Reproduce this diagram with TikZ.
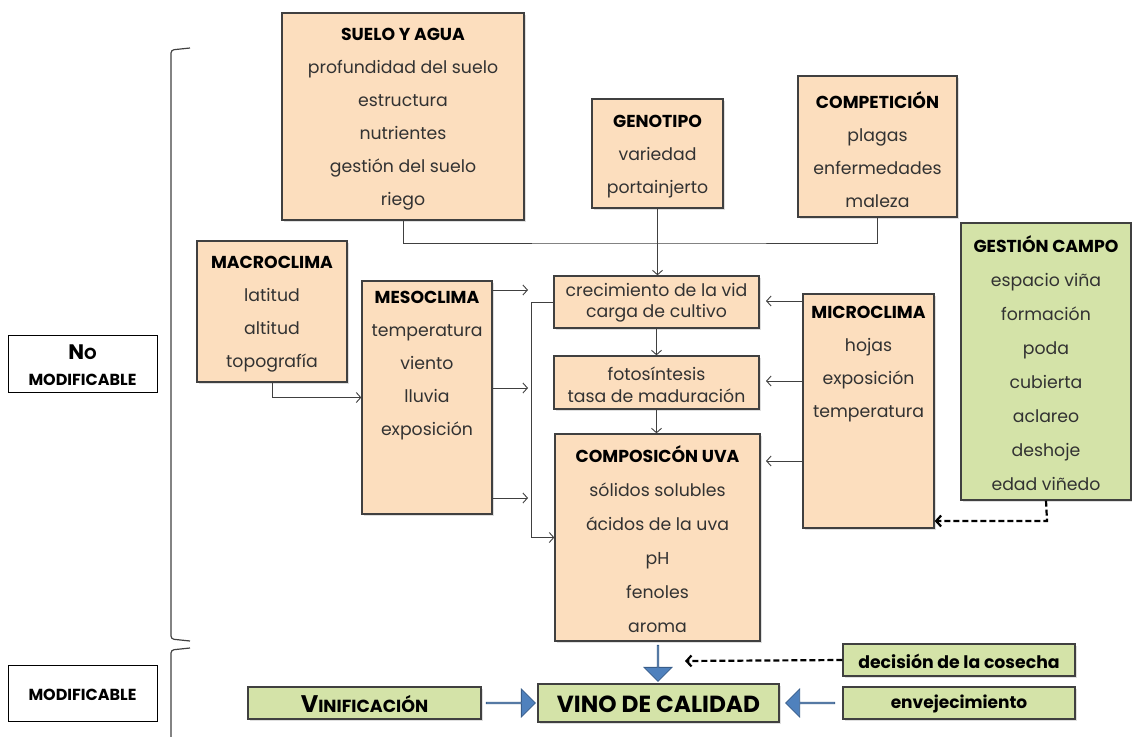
\documentclass[tikz,border=0pt]{standalone}
\usepackage{fontspec}
\setmainfont{Poppins}
\usetikzlibrary{arrows.meta,shapes.arrows,shadows}

\definecolor{durazno}{RGB}{252,222,190}
\definecolor{verde}{RGB}{212,227,168}
\definecolor{borde}{RGB}{64,64,64}
\definecolor{gris}{RGB}{50,50,50}
\definecolor{azul}{RGB}{79,129,189}
\definecolor{azulborde}{RGB}{56,93,138}

\tikzset{
  caja/.style={draw=borde, line width=1.3pt, fill=durazno, inner sep=0pt,
    drop shadow={opacity=0.25, shadow xshift=1.5pt, shadow yshift=-1.5pt}},
  cajaverde/.style={caja, fill=verde},
  etiqueta/.style={draw=black, line width=0.9pt, fill=white, inner sep=0pt},
  texto/.style={align=center, text=gris, inner sep=0pt, font=\fontsize{17.3}{33}\selectfont},
  linea/.style={draw=borde, line width=0.9pt},
  flechita/.style={linea, -{Straight Barb[length=4.5pt,width=10pt]}},
  discontinua/.style={black, line width=2.2pt, dash pattern=on 6pt off 3pt,
    -{Straight Barb[length=5pt,width=11pt]}},
  flecha/.style={single arrow, fill=azul, draw=azulborde, line width=0.8pt, inner sep=0pt,
    minimum width=28pt, single arrow head extend=7.5pt, minimum height=49pt}
}

\newcommand{\tit}[1]{{\color{black}\bfseries\fontsize{17.3}{33}\selectfont #1}}

\begin{document}
\begin{tikzpicture}[x=1pt,y=-1pt]
  \useasboundingbox (0,0) rectangle (1132,736);

  % Llaves de la izquierda
  \draw[borde, line width=1.2pt, rounded corners=3pt] (190,48) -- (171,50) -- (171,639) -- (190,641);
  \draw[borde, line width=1.2pt, rounded corners=3pt] (190,648) -- (171,650) -- (171,745);

  % Etiquetas
  \node[etiqueta, minimum width=149pt, minimum height=57pt] (nomod) at (82.5,363.5) {};
  \node[align=center, inner sep=0pt, font=\bfseries\fontsize{16}{26}\selectfont] (nomod-t) at (82.5,365)
    {{\fontsize{21}{26}\selectfont N}O\\MODIFICABLE};
  \node[etiqueta, minimum width=149pt, minimum height=56pt] (mod) at (82.5,693) {};
  \node[inner sep=0pt, font=\bfseries\fontsize{16}{26}\selectfont] (mod-t) at (82.5,695) {MODIFICABLE};

  % Cajas de factores
  \node[caja, minimum width=242pt, minimum height=207pt] (suelo) at (403,116.5) {};
  \node[texto] (suelo-t) at (403,119) {\tit{SUELO Y AGUA}\\profundidad del suelo\\estructura\\nutrientes\\gestión del suelo\\riego};

  \node[caja, minimum width=131pt, minimum height=109pt] (genotipo) at (657.5,153.5) {};
  \node[texto] (genotipo-t) at (657.5,157) {\tit{GENOTIPO}\\variedad\\portainjerto};

  \node[caja, minimum width=159pt, minimum height=141pt] (competicion) at (877.5,146.5) {};
  \node[texto] (competicion-t) at (877.5,150) {\tit{COMPETICIÓN}\\plagas\\enfermedades\\maleza};

  \node[caja, minimum width=150pt, minimum height=141pt] (macro) at (272,311.5) {};
  \node[texto] (macro-t) at (272,314) {\tit{MACROCLIMA}\\latitud\\altitud\\topografía};

  \node[caja, minimum width=130pt, minimum height=233pt] (meso) at (427,397.5) {};
  \node[texto] (meso-t) at (427,366) {\tit{MESOCLIMA}\\temperatura\\viento\\lluvia\\exposición};

  \node[caja, minimum width=205pt, minimum height=52pt] (crecimiento) at (656.5,302) {};
  \node[texto, font=\fontsize{17.3}{21}\selectfont] (crecimiento-t) at (656.5,303) {crecimiento de la vid\\carga de cultivo};

  \node[caja, minimum width=205pt, minimum height=53pt] (fotosintesis) at (656.5,382.5) {};
  \node[texto, font=\fontsize{17.3}{22}\selectfont] (fotosintesis-t) at (656.5,384.5) {fotosíntesis\\tasa de maduración};

  \node[caja, minimum width=205pt, minimum height=207pt] (composicion) at (657.5,537.5) {};
  \node[texto, font=\fontsize{17.3}{34}\selectfont] (composicion-t) at (657.5,539) {\tit{COMPOSICÓN UVA}\\sólidos solubles\\ácidos de la uva\\pH\\fenoles\\aroma};

  \node[caja, minimum width=131pt, minimum height=234pt] (micro) at (868.5,411) {};
  \node[texto] (micro-t) at (868.5,364) {\tit{MICROCLIMA}\\hojas\\exposición\\temperatura};

  \node[cajaverde, minimum width=170pt, minimum height=277pt] (gestion) at (1046,361.5) {};
  \node[texto, font=\fontsize{17.3}{34}\selectfont] (gestion-t) at (1046,363) {\tit{GESTIÓN CAMPO}\\espacio viña\\formación\\poda\\cubierta\\aclareo\\deshoje\\edad viñedo};

  % Cajas de abajo
  \node[cajaverde, minimum width=232pt, minimum height=32pt] (decision) at (959,660) {};
  \node[inner sep=0pt, font=\bfseries\fontsize{17.3}{18}\selectfont] (decision-t) at (959,661) {decisión de la cosecha};
  \node[cajaverde, minimum width=232pt, minimum height=32pt] (envejecimiento) at (959,703) {};
  \node[inner sep=0pt, font=\bfseries\fontsize{17}{18}\selectfont] (envejecimiento-t) at (959,704) {envejecimiento};
  \node[cajaverde, minimum width=241pt, minimum height=38pt] (vino) at (658.5,703) {};
  \node[inner sep=0pt, font=\bfseries\fontsize{23.3}{24}\selectfont] (vino-t) at (658.5,704) {VINO DE CALIDAD};
  \node[cajaverde, minimum width=233pt, minimum height=32pt] (vinificacion) at (364.5,703) {};
  \node[inner sep=0pt, font=\bfseries\fontsize{17.5}{18}\selectfont] (vinificacion-t) at (364.5,704)
    {{\fontsize{24}{18}\selectfont V}INIFICACIÓN};

  % Conexiones
  \coordinate (union) at (657.5,243);
  \draw[linea] (suelo.south) |- (union) -| (competicion.south);
  \draw[flechita] (genotipo.south) -- (genotipo.south |- crecimiento.north);
  \draw[flechita] (macro.south) |- (meso.west);
  \draw[flechita] (crecimiento) -- (fotosintesis);
  \draw[flechita] (fotosintesis.south) -- (fotosintesis.south |- composicion.north);

  \coordinate (bus) at (531,537.5);
  \draw[flechita] (crecimiento.west) -| (bus) -- (composicion.west);

  \foreach \i/\y in {1/290,2/388,3/498} {
    \coordinate (m\i) at (528,\y);
    \draw[flechita] (meso.east |- m\i) -- (m\i);
  }
  \foreach \i/\y in {1/301,2/381,3/461} {
    \coordinate (c\i) at (766,\y);
    \draw[flechita] (micro.west |- c\i) -- (c\i);
  }

  \coordinate (codo) at (1047,521);
  \draw[discontinua] (gestion.south) -- (codo) -- (micro.east |- codo);
  \coordinate (cosecha) at (685,661);
  \draw[discontinua] (decision.west) -- (cosecha);

  % Flechas azules
  \node[flecha, minimum height=36pt, shape border rotate=270] (baja) at (658,663) {};
  \node[flecha] (entra) at (510.5,703) {};
  \node[flecha, shape border rotate=180] (sale) at (810.5,703) {};
\end{tikzpicture}
\end{document}
